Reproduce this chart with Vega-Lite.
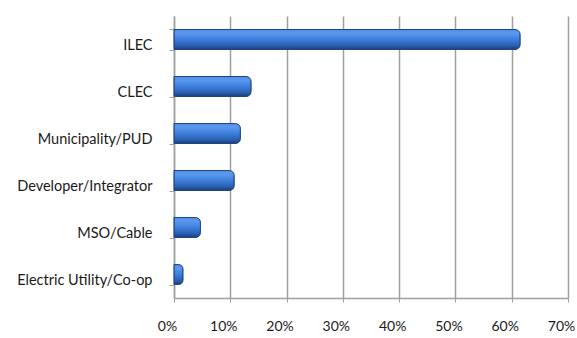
{
  "$schema": "https://vega.github.io/schema/vega-lite/v6.json",
  "width": 394,
  "height": 282,
  "autosize": {"type": "none"},
  "padding": {"left": 174, "top": 16, "right": 9, "bottom": 40},
  "background": "white",
  "config": {
    "view": {"stroke": null},
    "font": "Lato",
    "axis": {"labelFont": "Lato", "labelColor": "#1a1a1a"}
  },
  "data": {
    "values": [
      {"provider": "ILEC", "share": 0.615},
      {"provider": "CLEC", "share": 0.137},
      {"provider": "Municipality/PUD", "share": 0.118},
      {"provider": "Developer/Integrator", "share": 0.107},
      {"provider": "MSO/Cable", "share": 0.047},
      {"provider": "Electric Utility/Co-op", "share": 0.016}
    ]
  },
  "mark": {
    "type": "bar",
    "cornerRadiusEnd": 5,
    "stroke": "#1f4680",
    "strokeWidth": 1,
    "color": {
      "gradient": "linear",
      "x1": 0, "y1": 0, "x2": 0, "y2": 1,
      "stops": [
        {"offset": 0, "color": "#4f8ce6"},
        {"offset": 0.18, "color": "#5c98ee"},
        {"offset": 0.5, "color": "#3e7fdc"},
        {"offset": 0.8, "color": "#2a60b2"},
        {"offset": 1, "color": "#183d78"}
      ]
    }
  },
  "encoding": {
    "y": {
      "field": "provider",
      "type": "nominal",
      "sort": null,
      "scale": {"paddingInner": 0.574, "paddingOuter": 0.287},
      "axis": {
        "title": null,
        "labelFontSize": 14.5,
        "labelOffset": 6,
        "domainColor": "#a0a0a0",
        "domainWidth": 1.5,
        "tickColor": "#a0a0a0",
        "tickSize": 5,
        "tickBand": "extent",
        "labelPadding": 17
      }
    },
    "x": {
      "field": "share",
      "type": "quantitative",
      "scale": {"domain": [0, 0.7], "nice": false},
      "axis": {
        "title": null,
        "format": ".0%",
        "values": [0, 0.1, 0.2, 0.3, 0.4, 0.5, 0.6, 0.7],
        "labelFontSize": 14,
        "labelOffset": -7,
        "grid": true,
        "gridColor": "#a0a0a0",
        "gridWidth": 1.5,
        "domainColor": "#a0a0a0",
        "domainWidth": 1.5,
        "tickColor": "#a0a0a0",
        "tickSize": 4,
        "labelPadding": 17,
        "labelFlush": false
      }
    }
  }
}
